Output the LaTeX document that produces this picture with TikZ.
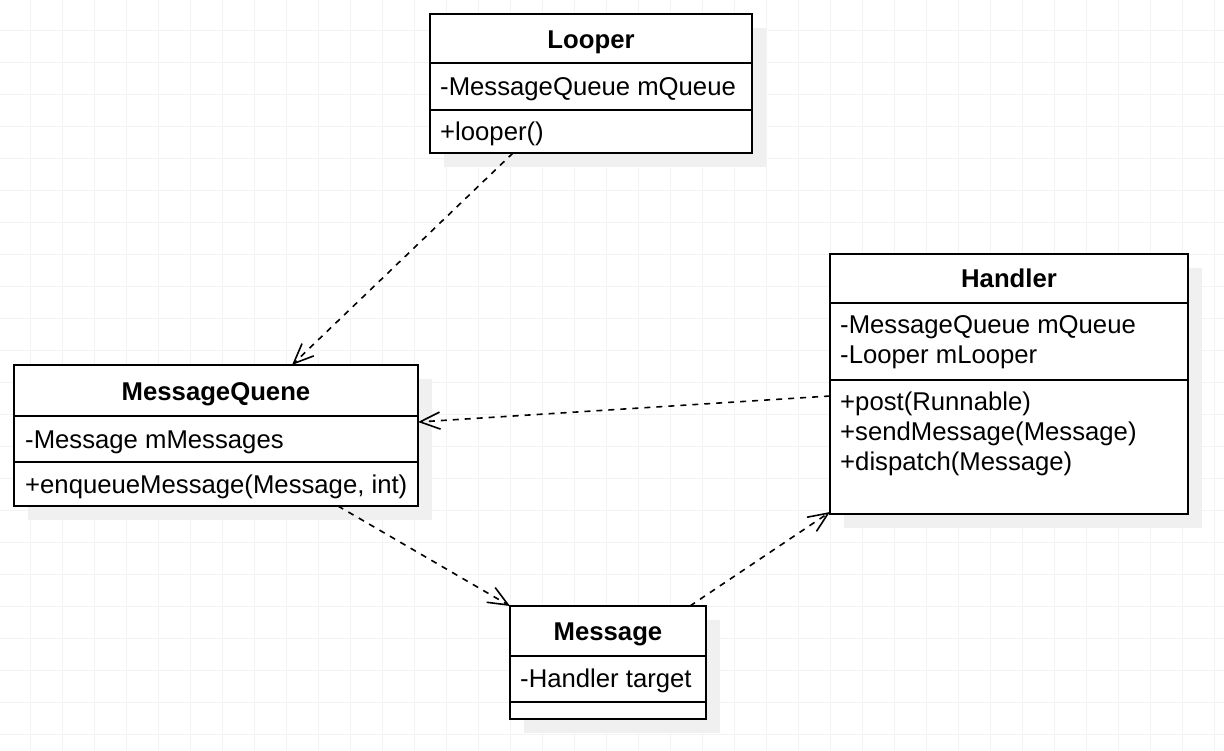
\documentclass[tikz,border=0pt]{standalone}
\usepackage{fontspec}
\setmainfont{Liberation Sans}
\usetikzlibrary{arrows.meta,calc,backgrounds}
\definecolor{gridc}{HTML}{F3F3F3}
\definecolor{shadowc}{HTML}{F0F0F0}
\tikzset{
  classbox/.style={draw=black, fill=white, line width=2pt, inner sep=0pt, outer sep=0pt, anchor=north west},
  sepline/.style={line width=2pt},
  hdr/.style={anchor=base, inner sep=0pt, font=\fontsize{25.7pt}{30pt}\selectfont\bfseries},
  txt/.style={anchor=base west, inner sep=0pt, font=\fontsize{25.7pt}{30pt}\selectfont},
  dep/.style={line width=1.6pt, dash pattern=on 6pt off 6pt, -{Straight Barb[length=20pt,width=17pt,line width=1.6pt]}},
  shadowbox/.style={fill=shadowc},
  gridline/.style={draw=gridc, line width=1pt},
}
\begin{document}
\begin{tikzpicture}[x=1pt,y=-1pt]
\useasboundingbox (0,0) rectangle (1224,750);

% class boxes
\node[classbox, minimum width=322pt, minimum height=139pt] (looper) at (430,14) {};
\node[classbox, minimum width=404pt, minimum height=141pt] (mq) at (14,365) {};
\node[classbox, minimum width=358pt, minimum height=260pt] (handler) at (830,254) {};
\node[classbox, minimum width=196pt, minimum height=113pt] (msg) at (510,606) {};

\begin{pgfonlayer}{background}
  \fill[white] (0,0) rectangle (1224,750);
  \foreach \i in {0,...,38} \draw[gridline] ({-2+32*\i},0) -- ({-2+32*\i},750);
  \foreach \j in {0,...,24} \draw[gridline] (0,{-2+32*\j}) -- (1224,{-2+32*\j});
  \foreach \n in {looper,mq,handler,msg}
    \fill[shadowbox] ($(\n.north west)+(14,14)$) rectangle ($(\n.south east)+(14,14)$);
\end{pgfonlayer}

% separators
\draw[sepline] ($(looper.north west)+(0,49)$) -- ($(looper.north east)+(0,49)$);
\draw[sepline] ($(looper.north west)+(0,96)$) -- ($(looper.north east)+(0,96)$);
\draw[sepline] ($(mq.north west)+(0,51)$) -- ($(mq.north east)+(0,51)$);
\draw[sepline] ($(mq.north west)+(0,97)$) -- ($(mq.north east)+(0,97)$);
\draw[sepline] ($(handler.north west)+(0,49)$) -- ($(handler.north east)+(0,49)$);
\draw[sepline] ($(handler.north west)+(0,126)$) -- ($(handler.north east)+(0,126)$);
\draw[sepline] ($(msg.north west)+(0,50)$) -- ($(msg.north east)+(0,50)$);
\draw[sepline] ($(msg.north west)+(0,96)$) -- ($(msg.north east)+(0,96)$);

% texts
\node[hdr] (lt) at (591,48) {Looper};
\node[txt] (la) at (440,95) {-MessageQueue mQueue};
\node[txt] (lm) at (440,140) {+looper()};

\node[hdr] (mqt) at (216,400) {MessageQuene};
\node[txt] (mqa) at (25,448) {-Message mMessages};
\node[txt] (mqm) at (25,493) {+enqueueMessage(Message, int)};

\node[hdr] (ht) at (1009,287) {Handler};
\node[txt] (ha1) at (840,333) {-MessageQueue mQueue};
\node[txt] (ha2) at (840,363) {-Looper mLooper};
\node[txt] (hm1) at (840,410) {+post(Runnable)};
\node[txt] (hm2) at (840,440) {+sendMessage(Message)};
\node[txt] (hm3) at (840,470) {+dispatch(Message)};

\node[hdr] (mt) at (608,640) {Message};
\node[txt] (ma) at (520,687) {-Handler target};

% dependencies
\draw[dep] ($(looper.south west)+(83,0)$) -- ($(mq.north west)+(278,0)$);
\draw[dep] ($(handler.north west)+(0,142)$) -- ($(mq.north east)+(0,57)$);
\draw[dep] ($(mq.south west)+(324,0)$) -- (msg.north west);
\draw[dep] ($(msg.north west)+(180,0)$) -- ($(handler.south west)+(0,-2)$);
\end{tikzpicture}
\end{document}
